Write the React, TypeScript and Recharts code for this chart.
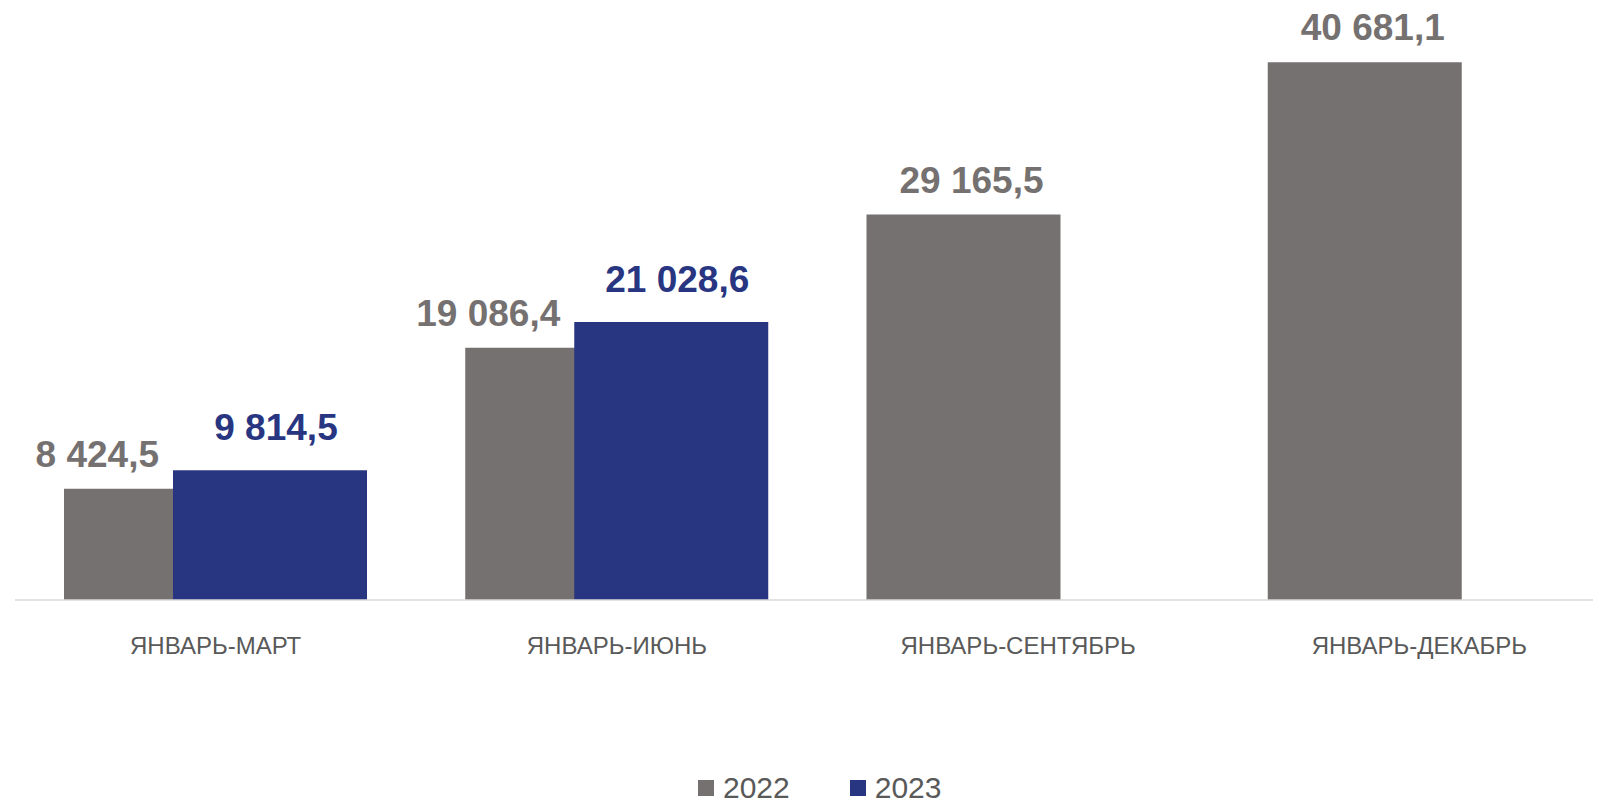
import React from 'react';
import { BarChart, Bar, XAxis, YAxis, Legend, LabelList } from 'recharts';

const categories = ['ЯНВАРЬ-МАРТ', 'ЯНВАРЬ-ИЮНЬ', 'ЯНВАРЬ-СЕНТЯБРЬ', 'ЯНВАРЬ-ДЕКАБРЬ'];
const values2022 = [8424.5, 19086.4, 29165.5, 40681.1];
const values2023: (number | null)[] = [9814.5, 21028.6, null, null];
const seriesNames = ['2022', '2023'];

const GRAY = '#767171';
const BLUE = '#283682';
const TEXT = '#595959';
const FONT = '"Liberation Sans", Arial, sans-serif';
const OVERLAP = 85;

const data = categories.map((c, i) => ({ category: c, y2022: values2022[i], y2023: values2023[i] }));

const fmt = (v: number) => {
  const [i, d] = v.toFixed(1).split('.');
  return i.replace(/\B(?=(\d{3})+(?!\d))/g, ' ') + ',' + d;
};

const GrayLabel = (props: any) => {
  const { x, y, width, value, index } = props;
  if (value == null) return null;
  const overlapped = values2023[index] != null;
  const tx = overlapped ? x + width - OVERLAP - 14 : x + width / 2 + 8;
  return (
    <text x={tx} y={y - 22} textAnchor={overlapped ? 'end' : 'middle'} fill={GRAY}
      style={{ fontFamily: FONT, fontWeight: 700, fontSize: 37 }}>
      {fmt(value)}
    </text>
  );
};

const BlueLabel = (props: any) => {
  const { x, y, width, value } = props;
  if (value == null) return null;
  return (
    <text x={x + width / 2 + 6} y={y - 30} textAnchor="middle" fill={BLUE}
      style={{ fontFamily: FONT, fontWeight: 700, fontSize: 37 }}>
      {fmt(value)}
    </text>
  );
};

const CategoryTick = (props: any) => {
  const { x, y, payload } = props;
  return (
    <text x={x} y={y + 53.5} textAnchor="middle" fill={TEXT}
      style={{ fontFamily: FONT, fontSize: 24 }}>
      {payload.value}
    </text>
  );
};

const LegendContent = (props: any) => {
  const items = props.payload || [];
  return (
    <div style={{ display: 'flex', alignItems: 'center', fontFamily: FONT, height: 24 }}>
      {items.map((it: any, i: number) => (
        <div key={i} style={{ display: 'flex', alignItems: 'center', marginRight: i === 0 ? 60 : 0 }}>
          <div style={{ width: 16, height: 16, background: it.color, marginRight: 9 }} />
          <span style={{ fontSize: 30, lineHeight: '24px', color: TEXT }}>{it.value}</span>
        </div>
      ))}
    </div>
  );
};

export default function App() {
  return (
    <div style={{ width: 1585, height: 797, overflow: 'hidden', position: 'relative' }}>
      <BarChart
        width={1612}
        height={797}
        data={data}
        margin={{ top: 10.5, right: 0, left: 7, bottom: 145 }}
        barSize={194}
        barGap={-OVERLAP}
      >
        <XAxis
          dataKey="category"
          height={60}
          tickLine={false}
          tickSize={0}
          tickMargin={0}
          axisLine={{ stroke: '#d9d9d9', strokeWidth: 1.5 }}
          tick={<CategoryTick />}
          interval={0}
        />
        <YAxis hide domain={[0, 44000]} />
        <Legend
          verticalAlign="middle"
          align="center"
          layout="horizontal"
          wrapperStyle={{ top: 767.5, left: 690, width: 320, height: 24 }}
          content={<LegendContent />}
        />
        <Bar dataKey="y2022" name={seriesNames[0]} fill={GRAY} isAnimationActive={false}>
          <LabelList dataKey="y2022" content={<GrayLabel />} />
        </Bar>
        <Bar dataKey="y2023" name={seriesNames[1]} fill={BLUE} isAnimationActive={false}>
          <LabelList dataKey="y2023" content={<BlueLabel />} />
        </Bar>
      </BarChart>
    </div>
  );
}
